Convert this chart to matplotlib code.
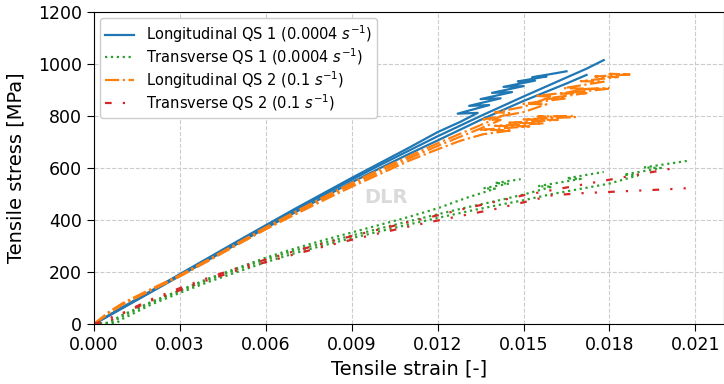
import matplotlib
matplotlib.use("Agg")
import matplotlib.pyplot as plt

plt.rcParams['font.family'] = ['DejaVu Sans']

# Longitudinal QS 1 (0.0004 1/s) - three specimens
long_qs1_a_strain = [0, 0.001, 0.002, 0.003, 0.004, 0.005, 0.006, 0.007, 0.008, 0.009, 0.010, 0.011,
                     0.012, 0.0128, 0.0134, 0.0127, 0.0138, 0.0131, 0.0142, 0.0135, 0.0146, 0.0139,
                     0.0150, 0.0143, 0.0154, 0.0148, 0.0158, 0.0153, 0.0162, 0.0165]
long_qs1_a_stress = [0, 65, 128, 192, 255, 318, 380, 442, 502, 562, 620, 678,
                     738, 778, 812, 809, 842, 839, 868, 865, 892, 889,
                     915, 912, 936, 933, 952, 949, 966, 972]
long_qs1_b_strain = [0, 0.001, 0.002, 0.003, 0.004, 0.005, 0.006, 0.007, 0.008, 0.009, 0.010, 0.011,
                     0.012, 0.0135, 0.015, 0.0165, 0.0172, 0.0178]
long_qs1_b_stress = [0, 63, 126, 189, 251, 313, 375, 436, 496, 555, 612, 667,
                     722, 800, 875, 948, 982, 1015]
long_qs1_c_strain = [0, 0.001, 0.002, 0.003, 0.004, 0.005, 0.006, 0.007, 0.008, 0.009, 0.010, 0.011,
                     0.012, 0.0135, 0.015, 0.0165, 0.0172]
long_qs1_c_stress = [0, 61, 123, 185, 247, 308, 369, 428, 487, 545, 600, 654,
                     706, 785, 858, 925, 958]

# Longitudinal QS 2 (0.1 1/s) - three specimens
long_qs2_a_strain = [0, 0.0005, 0.001, 0.002, 0.003, 0.004, 0.005, 0.006, 0.007, 0.008, 0.009, 0.010,
                     0.011, 0.012, 0.0135, 0.0145, 0.0140, 0.015, 0.016, 0.0154, 0.0165, 0.0172, 0.0164,
                     0.0178, 0.0170, 0.0183, 0.0175, 0.0187, 0.0180, 0.0187]
long_qs2_a_stress = [0, 45, 80, 135, 188, 248, 310, 372, 430, 487, 542, 595,
                     645, 695, 765, 812, 814, 835, 875, 877, 890, 905, 907,
                     932, 934, 950, 952, 960, 962, 958]
long_qs2_b_strain = [0, 0.0005, 0.001, 0.002, 0.003, 0.004, 0.005, 0.006, 0.007, 0.008, 0.009, 0.010,
                     0.011, 0.012, 0.0135, 0.0142, 0.0136, 0.015, 0.0158, 0.0150, 0.0165, 0.0157,
                     0.0172, 0.0163, 0.0180, 0.0170, 0.0180]
long_qs2_b_stress = [0, 40, 75, 130, 183, 243, 305, 365, 423, 480, 535, 587,
                     637, 685, 752, 785, 787, 815, 845, 847, 868, 866, 888, 886,
                     905, 903, 908]
long_qs2_c_strain = [0, 0.0005, 0.001, 0.002, 0.003, 0.004, 0.005, 0.006, 0.007, 0.008, 0.009, 0.010,
                     0.011, 0.012, 0.0128, 0.0136, 0.0146, 0.0135, 0.0152, 0.0140, 0.0157, 0.0145,
                     0.0162, 0.0150, 0.0168, 0.0155, 0.0168]
long_qs2_c_stress = [0, 42, 78, 132, 185, 245, 305, 365, 420, 475, 528, 578,
                     628, 672, 705, 730, 745, 747, 760, 762, 772, 774,
                     785, 787, 796, 798, 800]

# Transverse QS 1 (0.0004 1/s) - three specimens
trans_qs1_a_strain = [0, 0.0005, 0.001, 0.002, 0.003, 0.004, 0.005, 0.006, 0.007, 0.008, 0.009, 0.010,
                      0.011, 0.012, 0.013, 0.0140, 0.0136, 0.0145, 0.0140, 0.0149]
trans_qs1_a_stress = [0, 5, 35, 85, 130, 175, 215, 255, 290, 322, 352, 382,
                      412, 445, 485, 520, 522, 540, 542, 557]
trans_qs1_b_strain = [0, 0.0006, 0.001, 0.002, 0.003, 0.004, 0.005, 0.006, 0.007, 0.008, 0.009, 0.010,
                      0.011, 0.012, 0.013, 0.014, 0.015, 0.016, 0.0155, 0.017, 0.0165, 0.0178]
trans_qs1_b_stress = [0, 5, 30, 82, 127, 170, 210, 248, 282, 312, 340, 368,
                      395, 422, 448, 472, 498, 528, 530, 558, 560, 585]
trans_qs1_c_strain = [0, 0.0008, 0.001, 0.002, 0.003, 0.004, 0.005, 0.006, 0.007, 0.008, 0.009, 0.010,
                      0.011, 0.012, 0.013, 0.014, 0.015, 0.016, 0.017, 0.018, 0.019, 0.0185,
                      0.0198, 0.0192, 0.0207]
trans_qs1_c_stress = [0, 5, 20, 75, 120, 162, 200, 238, 272, 302, 330, 357,
                      383, 408, 432, 455, 476, 500, 520, 540, 572, 574,
                      600, 602, 627]

# Transverse QS 2 (0.1 1/s) - two specimens
trans_qs2_a_strain = [0, 0.0005, 0.001, 0.002, 0.003, 0.004, 0.005, 0.006, 0.007, 0.008, 0.009, 0.010,
                      0.011, 0.012, 0.013, 0.014, 0.015, 0.016, 0.017, 0.018, 0.019, 0.020, 0.0208]
trans_qs2_a_stress = [0, 10, 40, 90, 130, 170, 206, 238, 268, 297, 324, 350,
                      375, 398, 420, 442, 468, 495, 503, 508, 513, 518, 523]
trans_qs2_b_strain = [0, 0.001, 0.002, 0.003, 0.004, 0.005, 0.006, 0.007, 0.008, 0.009, 0.010,
                      0.011, 0.012, 0.013, 0.014, 0.015, 0.016, 0.017, 0.018, 0.019, 0.0203]
trans_qs2_b_stress = [0, 42, 95, 138, 178, 215, 248, 280, 310, 338, 365,
                      392, 418, 445, 470, 495, 515, 535, 555, 575, 600]

x_ticks = [0.000, 0.003, 0.006, 0.009, 0.012, 0.015, 0.018, 0.021]
y_ticks = [0, 200, 400, 600, 800, 1000, 1200]

series = [
    ("Longitudinal QS 1 (0.0004 $s^{-1}$)", "tab:blue", "-",
     [(long_qs1_a_strain, long_qs1_a_stress), (long_qs1_b_strain, long_qs1_b_stress),
      (long_qs1_c_strain, long_qs1_c_stress)]),
    ("Transverse QS 1 (0.0004 $s^{-1}$)", "tab:green", ":",
     [(trans_qs1_a_strain, trans_qs1_a_stress), (trans_qs1_b_strain, trans_qs1_b_stress),
      (trans_qs1_c_strain, trans_qs1_c_stress)]),
    ("Longitudinal QS 2 (0.1 $s^{-1}$)", "tab:orange", "-.",
     [(long_qs2_a_strain, long_qs2_a_stress), (long_qs2_b_strain, long_qs2_b_stress),
      (long_qs2_c_strain, long_qs2_c_stress)]),
    ("Transverse QS 2 (0.1 $s^{-1}$)", "tab:red", (0, (3, 5, 1, 5, 1, 5)),
     [(trans_qs2_a_strain, trans_qs2_a_stress), (trans_qs2_b_strain, trans_qs2_b_stress)]),
]

fig = plt.figure(figsize=(7.24, 3.84), dpi=100)
ax = fig.add_axes([94 / 724, 60 / 384, 630 / 724, 312 / 384])

# watermark
ax.text(0.0102, 485, "DLR", color="#dadada", fontsize=14, fontweight="bold",
        ha="center", va="center", zorder=0)

for label, color, ls, specimens in series:
    for i, (x, y) in enumerate(specimens):
        ax.plot(x, y, color=color, linestyle=ls, linewidth=1.6,
                label=label if i == 0 else None)

ax.set_xlim(0, 0.022)
ax.set_ylim(0, 1200)
ax.set_xticks(x_ticks)
ax.set_xticklabels([f"{t:.3f}" for t in x_ticks])
ax.set_yticks(y_ticks)
ax.tick_params(labelsize=12.5, direction="out", length=5)
ax.set_xlabel("Tensile strain [-]", fontsize=14)
ax.set_ylabel("Tensile stress [MPa]", fontsize=14, labelpad=9)
ax.grid(True, linestyle="--", color="#cccccc", linewidth=0.8)
ax.set_axisbelow(True)
ax.legend(loc="upper left", fontsize=10.5, framealpha=1, edgecolor="#cccccc",
          handlelength=2.0, handletextpad=0.8, labelspacing=0.12,
          borderpad=0.35, borderaxespad=0.4)

fig.savefig("out.png", dpi=100)
